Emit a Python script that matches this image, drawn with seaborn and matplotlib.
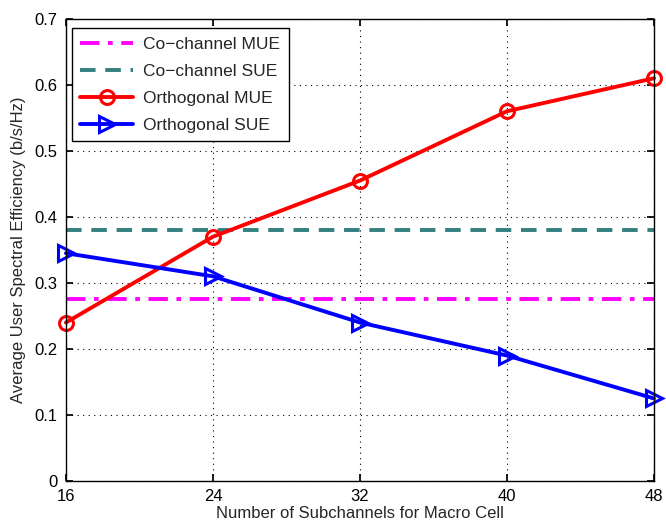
import matplotlib
matplotlib.use("Agg")
import matplotlib.pyplot as plt
import seaborn as sns
import pandas as pd

subchannels = [16, 24, 32, 40, 48]
orth_mue = [0.24, 0.37, 0.455, 0.56, 0.61]
orth_sue = [0.345, 0.31, 0.24, 0.19, 0.125]
cochannel_mue = 0.275
cochannel_sue = 0.38
y_ticks = [0, 0.1, 0.2, 0.3, 0.4, 0.5, 0.6, 0.7]

sns.set_theme(style="white")
plt.rcParams["font.family"] = ["Liberation Sans", "DejaVu Sans"]

fig = plt.figure(figsize=(6.66, 5.27), dpi=100)
ax = fig.add_axes([0.099, 0.0873, 0.883, 0.877])

co_df = pd.DataFrame({
    "x": subchannels * 2,
    "y": [cochannel_mue] * len(subchannels) + [cochannel_sue] * len(subchannels),
    "series": ["Co\u2212channel MUE"] * len(subchannels) + ["Co\u2212channel SUE"] * len(subchannels),
})
orth_df = pd.DataFrame({"x": subchannels, "mue": orth_mue, "sue": orth_sue})

LW = 2.8
sns.lineplot(data=co_df[co_df.series == "Co\u2212channel MUE"], x="x", y="y", ax=ax,
             color="#ff00ff", lw=LW, linestyle=(0, (5, 2.2, 1.2, 2.2)),
             label="Co\u2212channel MUE")
sns.lineplot(data=co_df[co_df.series == "Co\u2212channel SUE"], x="x", y="y", ax=ax,
             color="#338080", lw=LW, linestyle=(0, (4, 2.5)),
             label="Co\u2212channel SUE")
sns.lineplot(data=orth_df, x="x", y="mue", ax=ax, color="#ff0000", lw=LW,
             marker="o", markersize=10, markerfacecolor="none",
             markeredgecolor="#ff0000", markeredgewidth=2.2, label="Orthogonal MUE",
             clip_on=False)
sns.lineplot(data=orth_df, x="x", y="sue", ax=ax, color="#0000ff", lw=LW,
             marker=">", markersize=12, markerfacecolor="none",
             markeredgecolor="#0000ff", markeredgewidth=2.2, label="Orthogonal SUE",
             clip_on=False)

ax.set_xlim(16, 48)
ax.set_ylim(0, 0.7)
ax.set_xticks(subchannels)
ax.set_yticks(y_ticks)
ax.set_yticklabels(["0", "0.1", "0.2", "0.3", "0.4", "0.5", "0.6", "0.7"])
ax.grid(True, color="black", linestyle=(0, (1, 4)), linewidth=0.8)
for s in ax.spines.values():
    s.set_color("black")
    s.set_linewidth(1.0)
ax.tick_params(axis="both", direction="in", length=5, color="black",
               labelsize=12, labelcolor="black", bottom=True, left=True,
               top=True, right=True, pad=6)
ax.set_xlabel("Number of Subchannels for Macro Cell", fontsize=12, labelpad=1)
ax.set_ylabel("Average User Spectral Efficiency (b/s/Hz)", fontsize=12, labelpad=6)

leg = ax.legend(loc="upper left", fontsize=12.5, frameon=True, fancybox=False,
                edgecolor="black", framealpha=1, borderpad=0.5,
                labelspacing=0.68, handlelength=3, handletextpad=0.6,
                borderaxespad=0, bbox_to_anchor=(0.01, 0.98))
leg.get_frame().set_linewidth(1.0)

fig.savefig("out.png", dpi=100)
